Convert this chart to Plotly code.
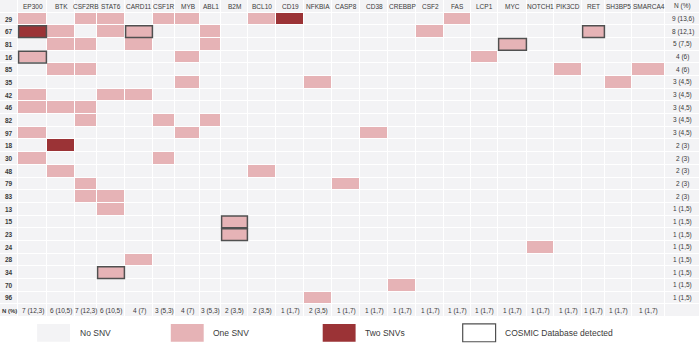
import plotly.graph_objects as go

genes = ["EP300", "BTK", "CSF2RB", "STAT6", "CARD11", "CSF1R", "MYB", "ABL1", "B2M",
         "BCL10", "CD19", "NFKBIA", "CASP8", "CD38", "CREBBP", "CSF2", "FAS", "LCP1",
         "MYC", "NOTCH1", "PIK3CD", "RET", "SH3BP5", "SMARCA4"]
gene_n = ["7 (12,3)", "6 (10,5)", "7 (12,3)", "6 (10,5)", "4 (7)", "3 (5,3)", "4 (7)",
          "3 (5,3)", "2 (3,5)", "2 (3,5)", "1 (1,7)", "2 (3,5)", "1 (1,7)", "1 (1,7)",
          "1 (1,7)", "1 (1,7)", "1 (1,7)", "1 (1,7)", "1 (1,7)", "1 (1,7)", "1 (1,7)",
          "1 (1,7)", "1 (1,7)", "1 (1,7)"]
patients = ["29", "67", "81", "16", "85", "35", "42", "46", "82", "97", "18", "30", "48",
            "79", "83", "13", "15", "23", "24", "28", "34", "70", "96"]
patient_n = ["9 (13,6)", "8 (12,1)", "5 (7,5)", "4 (6)", "4 (6)", "3 (4,5)", "3 (4,5)",
             "3 (4,5)", "3 (4,5)", "3 (4,5)", "2 (3)", "2 (3)", "2 (3)", "2 (3)", "2 (3)",
             "1 (1,5)", "1 (1,5)", "1 (1,5)", "1 (1,5)", "1 (1,5)", "1 (1,5)", "1 (1,5)",
             "1 (1,5)"]
# number of SNVs per patient (rows) and gene (columns)
snv_counts = [
    [1, 0, 1, 1, 0, 1, 1, 0, 0, 1, 2, 0, 0, 0, 0, 0, 1, 0, 0, 0, 0, 0, 0, 0],  # 29
    [2, 1, 0, 1, 1, 0, 0, 1, 0, 0, 0, 0, 0, 0, 0, 1, 0, 0, 0, 0, 0, 1, 0, 0],  # 67
    [0, 1, 1, 0, 1, 0, 0, 1, 0, 0, 0, 0, 0, 0, 0, 0, 0, 0, 1, 0, 0, 0, 0, 0],  # 81
    [1, 0, 0, 0, 0, 0, 1, 0, 0, 0, 0, 0, 0, 0, 0, 0, 0, 1, 0, 0, 0, 0, 0, 0],  # 16
    [0, 1, 1, 0, 0, 0, 0, 0, 0, 0, 0, 0, 0, 0, 0, 0, 0, 0, 0, 0, 1, 0, 0, 1],  # 85
    [0, 0, 0, 0, 0, 0, 1, 0, 0, 0, 0, 1, 0, 0, 0, 0, 0, 0, 0, 0, 0, 0, 1, 0],  # 35
    [1, 0, 0, 1, 1, 0, 0, 0, 0, 0, 0, 0, 0, 0, 0, 0, 0, 0, 0, 0, 0, 0, 0, 0],  # 42
    [1, 1, 1, 0, 0, 0, 0, 0, 0, 0, 0, 0, 0, 0, 0, 0, 0, 0, 0, 0, 0, 0, 0, 0],  # 46
    [0, 0, 1, 0, 0, 1, 0, 1, 0, 0, 0, 0, 0, 0, 0, 0, 0, 0, 0, 0, 0, 0, 0, 0],  # 82
    [1, 0, 0, 0, 0, 0, 1, 0, 0, 0, 0, 0, 0, 1, 0, 0, 0, 0, 0, 0, 0, 0, 0, 0],  # 97
    [0, 2, 0, 0, 0, 0, 0, 0, 0, 0, 0, 0, 0, 0, 0, 0, 0, 0, 0, 0, 0, 0, 0, 0],  # 18
    [1, 0, 0, 0, 0, 1, 0, 0, 0, 0, 0, 0, 0, 0, 0, 0, 0, 0, 0, 0, 0, 0, 0, 0],  # 30
    [0, 1, 0, 0, 0, 0, 0, 0, 0, 1, 0, 0, 0, 0, 0, 0, 0, 0, 0, 0, 0, 0, 0, 0],  # 48
    [0, 0, 1, 0, 0, 0, 0, 0, 0, 0, 0, 0, 1, 0, 0, 0, 0, 0, 0, 0, 0, 0, 0, 0],  # 79
    [0, 0, 1, 1, 0, 0, 0, 0, 0, 0, 0, 0, 0, 0, 0, 0, 0, 0, 0, 0, 0, 0, 0, 0],  # 83
    [0, 0, 0, 1, 0, 0, 0, 0, 0, 0, 0, 0, 0, 0, 0, 0, 0, 0, 0, 0, 0, 0, 0, 0],  # 13
    [0, 0, 0, 0, 0, 0, 0, 0, 1, 0, 0, 0, 0, 0, 0, 0, 0, 0, 0, 0, 0, 0, 0, 0],  # 15
    [0, 0, 0, 0, 0, 0, 0, 0, 1, 0, 0, 0, 0, 0, 0, 0, 0, 0, 0, 0, 0, 0, 0, 0],  # 23
    [0, 0, 0, 0, 0, 0, 0, 0, 0, 0, 0, 0, 0, 0, 0, 0, 0, 0, 0, 1, 0, 0, 0, 0],  # 24
    [0, 0, 0, 0, 1, 0, 0, 0, 0, 0, 0, 0, 0, 0, 0, 0, 0, 0, 0, 0, 0, 0, 0, 0],  # 28
    [0, 0, 0, 1, 0, 0, 0, 0, 0, 0, 0, 0, 0, 0, 0, 0, 0, 0, 0, 0, 0, 0, 0, 0],  # 34
    [0, 0, 0, 0, 0, 0, 0, 0, 0, 0, 0, 0, 0, 0, 1, 0, 0, 0, 0, 0, 0, 0, 0, 0],  # 70
    [0, 0, 0, 0, 0, 0, 0, 0, 0, 0, 0, 1, 0, 0, 0, 0, 0, 0, 0, 0, 0, 0, 0, 0],  # 96
]
cosmic_patients = ["67", "67", "67", "81", "16", "15", "23", "34"]
cosmic_genes = ["EP300", "CARD11", "RET", "MYC", "EP300", "B2M", "B2M", "STAT6"]
legend_labels = ["No SNV", "One SNV", "Two SNVs", "COSMIC Database detected"]

# ---- styling ----
GRAY = "#F3F3F5"
PINK = "#E6B3B6"
DARK = "#9B3336"
TXT = "#3a3a3a"
ID_COL_W = 18          # width of the patient-id column
N_COL_W = 35           # width of the N (%) column
GENE_COL_W = [29, 28, 22, 28, 28, 22, 25, 21, 27, 28, 28, 28, 28, 28, 28, 28, 27, 27,
              29, 27, 28, 23, 27, 33]   # table column widths (like the spreadsheet)

n_g = len(genes)
n_p = len(patients)

# column edges of the table
x_edges = [0.0, float(ID_COL_W)]
for w in GENE_COL_W:
    x_edges.append(x_edges[-1] + w)
x_edges.append(x_edges[-1] + N_COL_W)
col_center = [(x_edges[k] + x_edges[k + 1]) / 2 for k in range(len(x_edges) - 1)]

# full table: header row + patient rows + N row ; ID col + gene cols + N col
z = [[0] * (n_g + 2)]
for row in snv_counts:
    z.append([0] + list(row) + [0])
z.append([0] * (n_g + 2))
y_edges = [i - 0.5 for i in range(-1, n_p + 2)]

fig = go.Figure(go.Heatmap(
    z=z, x=x_edges, y=y_edges,
    zmin=0, zmax=2,
    colorscale=[[0, GRAY], [0.5, PINK], [1, DARK]],
    showscale=False, xgap=1, ygap=1, hoverinfo="skip",
))

FS = 6.5
ann = []
# header gene names
for i, g in enumerate(genes):
    ann.append(dict(x=col_center[i + 1], y=-1, text=g, xref="x", yref="y",
                    showarrow=False, font=dict(size=FS, color=TXT)))
ann.append(dict(x=col_center[-1], y=-1, text="N (%)", xref="x", yref="y",
                showarrow=False, font=dict(size=FS, color=TXT)))
# patient ids and totals
for j, p in enumerate(patients):
    ann.append(dict(x=col_center[0], y=j, text="<b>" + p + "</b>", xref="x", yref="y",
                    showarrow=False, font=dict(size=FS, color=TXT)))
    ann.append(dict(x=col_center[-1], y=j, text=patient_n[j], xref="x", yref="y",
                    showarrow=False, font=dict(size=FS, color=TXT)))
# gene totals
ann.append(dict(x=col_center[0], y=n_p, text="<b>N (%)</b>", xref="x", yref="y",
                showarrow=False, font=dict(size=6, color=TXT)))
for i, v in enumerate(gene_n):
    ann.append(dict(x=col_center[i + 1], y=n_p, text=v, xref="x", yref="y",
                    showarrow=False, font=dict(size=FS, color=TXT)))

shapes = []
for p, g in zip(cosmic_patients, cosmic_genes):
    j = patients.index(p)
    i = genes.index(g) + 1
    shapes.append(dict(type="rect", xref="x", yref="y",
                       x0=x_edges[i] + 0.6, x1=x_edges[i + 1] - 0.6,
                       y0=j - 0.46, y1=j + 0.46, line=dict(color="#505050", width=1.5),
                       fillcolor="rgba(0,0,0,0)"))

# legend
leg_colors = [GRAY, PINK, DARK, "white"]
leg_x = [0.053, 0.244, 0.461, 0.661]
for lab, col, lx in zip(legend_labels, leg_colors, leg_x):
    border = dict(color="#505050", width=1.2) if col == "white" else dict(width=0)
    shapes.append(dict(type="rect", xref="paper", yref="paper", x0=lx, x1=lx + 0.047,
                       y0=-0.078, y1=-0.022, fillcolor=col, line=border))
    ann.append(dict(x=lx + 0.058, y=-0.05, xref="paper", yref="paper", text=lab,
                    showarrow=False, xanchor="left", yanchor="middle",
                    font=dict(size=8.5, color=TXT)))

fig.update_layout(
    width=700, height=346,
    margin=dict(l=0, r=0, t=0, b=29),
    paper_bgcolor="white", plot_bgcolor="white",
    font=dict(family="Liberation Sans, Arial, sans-serif"),
    xaxis=dict(range=[x_edges[0], x_edges[-1]], visible=False, fixedrange=True),
    yaxis=dict(range=[y_edges[-1], y_edges[0]], visible=False, fixedrange=True),
    annotations=ann, shapes=shapes,
)

fig.write_html("out.html", config={"displayModeBar": False},
               post_script="document.body.style.margin='0';document.body.style.overflow='hidden';")
